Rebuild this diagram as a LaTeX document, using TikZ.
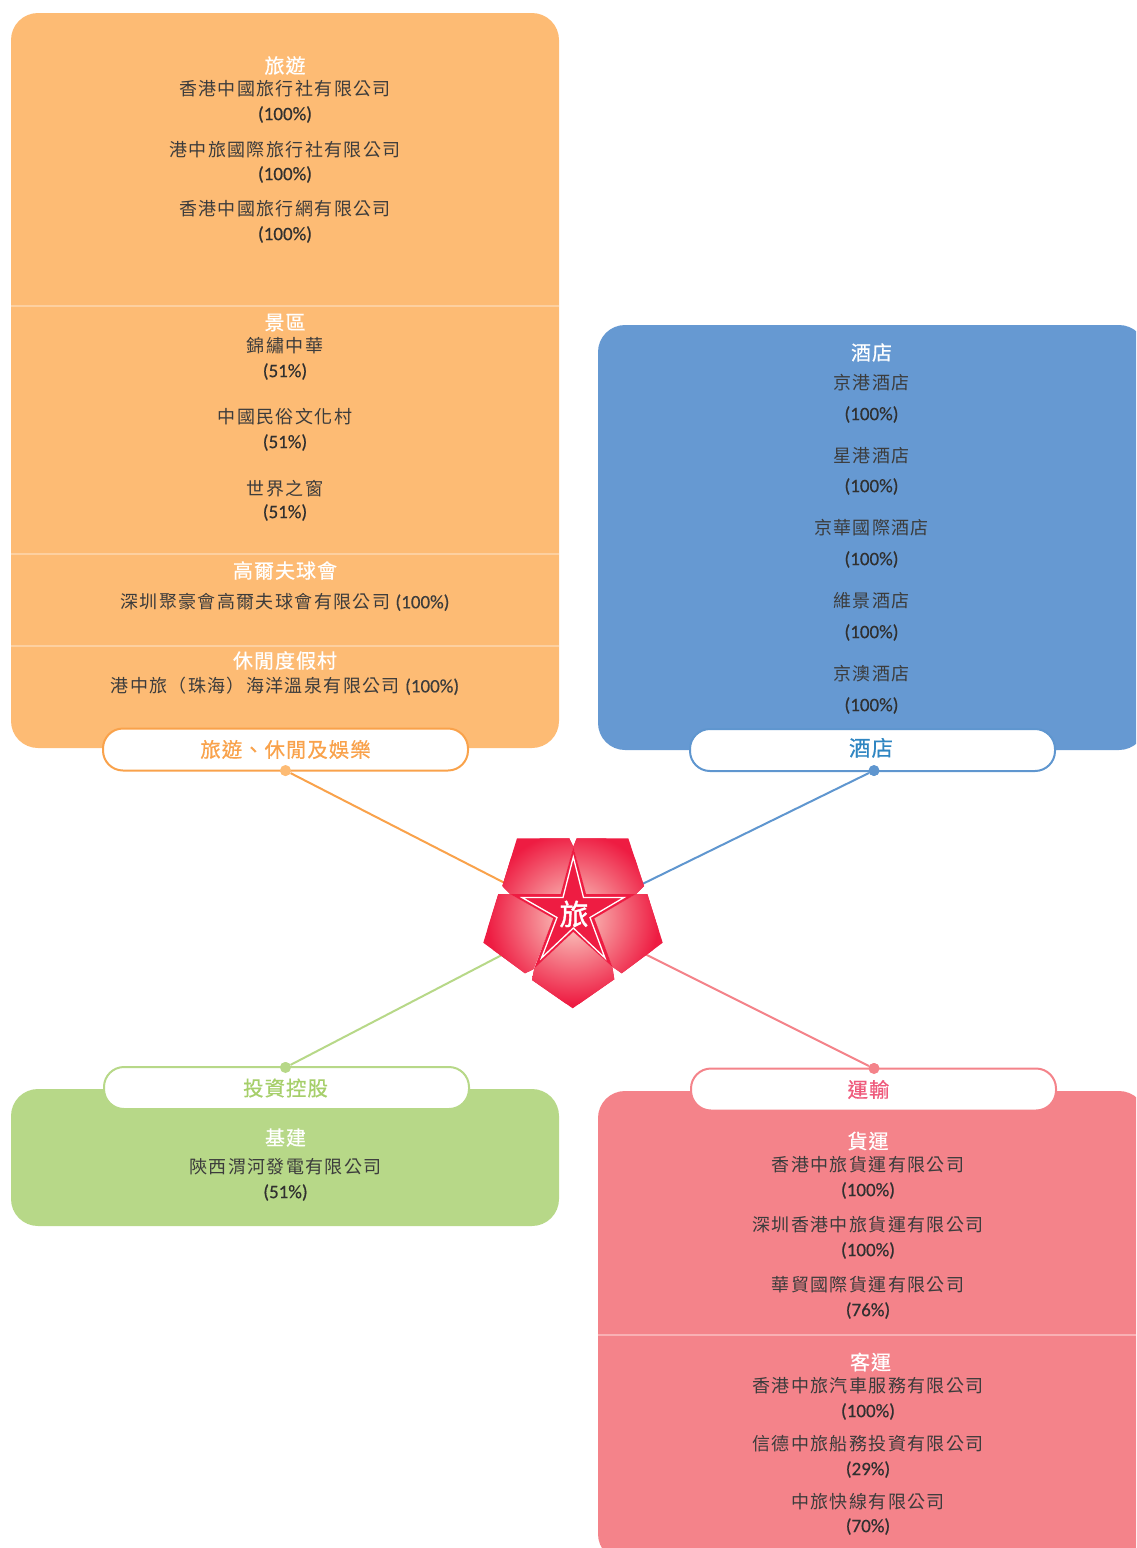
\documentclass[tikz,border=0pt]{standalone}
\usepackage{fontspec}
\setmainfont[FakeBold=0.35]{Carlito}
\newfontfamily\cjkbody[LetterSpace=7.5]{Noto Sans CJK TC}
\newfontfamily\cjkhead[LetterSpace=5,FakeBold=0.6]{Noto Sans CJK TC}
\newfontfamily\cjklogo[FakeBold=1.2]{Noto Sans CJK TC}
\definecolor{orangefill}{HTML}{FDBB74}
\definecolor{orangeline}{HTML}{F9A24B}
\definecolor{orangesep}{HTML}{FDD0A0}
\definecolor{bluefill}{HTML}{6699D2}
\definecolor{blueline}{HTML}{5F96CF}
\definecolor{bluetext}{HTML}{2F86C2}
\definecolor{greenfill}{HTML}{B7D888}
\definecolor{greentext}{HTML}{A6CF6A}
\definecolor{pinkfill}{HTML}{F4838A}
\definecolor{pinktext}{HTML}{EF5A7C}
\definecolor{pinksep}{HTML}{F9B0B4}
\definecolor{logored}{HTML}{EE1C42}
\definecolor{logoglow}{HTML}{FBD3C8}
\definecolor{bodyink}{HTML}{3C3C3C}
\tikzset{
	panel/.style={rounded corners=27pt,inner sep=0pt,minimum width=548pt},
	pill/.style={rounded corners=20pt,draw,line width=2pt,fill=white,inner sep=0pt,minimum width=365pt,minimum height=42pt,font=\cjkhead\fontsize{20.4}{22}\selectfont},
	dotnode/.style={circle,inner sep=0pt,minimum size=11pt},
	link/.style={line width=2pt},
	headtext/.style={inner sep=0pt,text=white,font=\cjkhead\fontsize{20}{22}\selectfont},
	bodytext/.style={inner sep=0pt,text=bodyink,font=\cjkbody\fontsize{18}{20}\selectfont},
	pcttext/.style={inner sep=0pt,text=bodyink!80!black,font=\fontsize{19}{21}\selectfont},
}
\newcommand{\petal}[1]{
	\begin{scope}
		\clip #1 -- cycle;
		\fill[logored] (logo) circle (120);
		\shade[inner color=logoglow,outer color=logored] (logo) circle (86);
	\end{scope}
}
\begin{document}
\begin{tikzpicture}[x=1pt,y=-1pt]
	\useasboundingbox (0,0) rectangle (1136,1548);
	\clip (0,0) rectangle (1136,1548);
	\coordinate (logo) at (573,918);

	% panels
	\node[panel,fill=orangefill,minimum height=735pt] (orangebox) at (285,380.5) {};
	\node[panel,fill=bluefill,minimum height=425pt] (bluebox) at (872,537.5) {};
	\node[panel,fill=greenfill,minimum height=137pt] (greenbox) at (285,1157.5) {};
	\node[panel,fill=pinkfill,minimum height=470pt] (pinkbox) at (872,1326) {};

	\draw[orangesep,line width=2pt] (11,306) -- (559,306);
	\draw[orangesep,line width=2pt] (11,554) -- (559,554);
	\draw[orangesep,line width=2pt] (11,646) -- (559,646);
	\draw[pinksep,line width=2pt] (598,1335) -- (1136,1335);

	% connectors
	\node[dotnode,fill=orangefill] (orangedot) at (285.5,770.5) {};
	\node[dotnode,fill=blueline] (bluedot) at (874,770.5) {};
	\node[dotnode,fill=greenfill] (greendot) at (285.5,1067.5) {};
	\node[dotnode,fill=pinkfill] (pinkdot) at (874,1068.5) {};
	\draw[link,orangeline] (orangedot) -- (logo);
	\draw[link,blueline] (bluedot) -- (logo);
	\draw[link,greenfill] (greendot) -- (logo);
	\draw[link,pinkfill] (pinkdot) -- (logo);

	% pills
	\node[pill,draw=orangeline,text=orangeline] (orangepill) at (285.5,749.5) {旅遊、休閒及娛樂};
	\node[pill,draw=blueline,text=bluetext,font=\cjkhead\fontsize{21.5}{23}\selectfont] (bluepill) at (872.5,750) {\hspace*{-3pt}\raisebox{6pt}{酒店}};
	\node[pill,draw=greenfill,text=greentext] (greenpill) at (286.5,1088) {\hspace*{-2pt}投資控股};
	\node[pill,draw=pinkfill,text=pinktext] (pinkpill) at (873.5,1089.5) {\hspace*{-10pt}運輸};
	\node[dotnode,fill=orangefill] at (orangedot) {};
	\node[dotnode,fill=blueline] at (bluedot) {};
	\node[dotnode,fill=greenfill] at (greendot) {};
	\node[dotnode,fill=pinkfill] at (pinkdot) {};

	% logo
	\petal{(517,838.3) -- (569.3,838.3) -- (573.3,846.7) -- (560.7,894) -- (510,894) -- (502.3,886)}
	\petal{(576.7,838.3) -- (628.3,838.3) -- (644,886) -- (636,894) -- (586,894) -- (573.3,846.7)}
	\petal{(510,894) -- (498.3,894) -- (483.3,942.7) -- (525,973.3) -- (533.3,969.3) -- (553.3,918.3)}
	\petal{(636,894) -- (647.3,894) -- (662.7,942.7) -- (621.7,973.3) -- (612.3,966.7) -- (594.3,918.3)}
	\petal{(573.3,931.7) -- (534.3,968.3) -- (532,980) -- (572.7,1008.3) -- (614.3,979.3) -- (612.3,966.7)}
	\fill[logored] (573.3,846.7) -- (586,894) -- (636,894) -- (594.3,918.3) -- (612.3,966.7) -- (573.3,931.7) -- (534.3,968.3) -- (553.3,918.3) -- (510,894) -- (560.7,894) -- cycle;
	\draw[white,line width=1.3pt] (573.3,857) -- (583.5,897.5) -- (624,897.5) -- (590,917.5) -- (605,958) -- (573.3,928) -- (541.5,958) -- (557,917.5) -- (522,897.5) -- (563,897.5) -- cycle;
	\node[inner sep=0pt,text=white,font=\cjklogo\fontsize{29}{29}\selectfont] (logochar) at (574,914) {旅};

	% orange panel
	\foreach \py/\kind/\txt in {
		65.5/headtext/旅遊,
		89/bodytext/香港中國旅行社有限公司,
		114.5/pcttext/(100\%),
		149.5/bodytext/港中旅國際旅行社有限公司,
		174.5/pcttext/(100\%),
		209/bodytext/香港中國旅行網有限公司,
		234.5/pcttext/(100\%),
		322.5/headtext/景區,
		346/bodytext/錦繡中華,
		371.5/pcttext/(51\%),
		417/bodytext/中國民俗文化村,
		442.5/pcttext/(51\%),
		488.5/bodytext/世界之窗,
		512.5/pcttext/(51\%),
		570.5/headtext/高爾夫球會,
		602/bodytext/深圳聚豪會高爾夫球會有限公司 {\normalfont\fontsize{19}{21}\selectfont (100\%)},
		660.5/headtext/休閒度假村,
		686/bodytext/港中旅（珠海）海洋溫泉有限公司 {\normalfont\fontsize{19}{21}\selectfont (100\%)}}
		\node[\kind] (orange\py) at (285,\py) {\txt};

	% blue panel
	\foreach \py/\kind/\txt in {
		352.5/headtext/酒店,
		383/bodytext/京港酒店,
		414.5/pcttext/(100\%),
		456/bodytext/星港酒店,
		486.5/pcttext/(100\%),
		528/bodytext/京華國際酒店,
		559.5/pcttext/(100\%),
		601/bodytext/維景酒店,
		632.5/pcttext/(100\%),
		674/bodytext/京澳酒店,
		705.5/pcttext/(100\%)}
		\node[\kind] (blue\py) at (871.5,\py) {\txt};

	% green panel
	\foreach \py/\kind/\txt in {
		1137.5/headtext/基建,
		1167/bodytext/陝西渭河發電有限公司,
		1192.5/pcttext/(51\%)}
		\node[\kind] (green\py) at (285.5,\py) {\txt};

	% pink panel
	\foreach \py/\kind/\txt in {
		1141/headtext/貨運,
		1165/bodytext/香港中旅貨運有限公司,
		1190.5/pcttext/(100\%),
		1225/bodytext/深圳香港中旅貨運有限公司,
		1250.5/pcttext/(100\%),
		1285/bodytext/華貿國際貨運有限公司,
		1310.5/pcttext/(76\%),
		1386/bodytext/香港中旅汽車服務有限公司,
		1411.5/pcttext/(100\%),
		1444/bodytext/信德中旅船務投資有限公司,
		1469.5/pcttext/(29\%),
		1502/bodytext/中旅快線有限公司,
		1526.5/pcttext/(70\%)}
		\node[\kind] (pink\py) at (868,\py) {\txt};
	\node[headtext] (pink1362) at (870.5,1362) {客運};
\end{tikzpicture}
\end{document}
